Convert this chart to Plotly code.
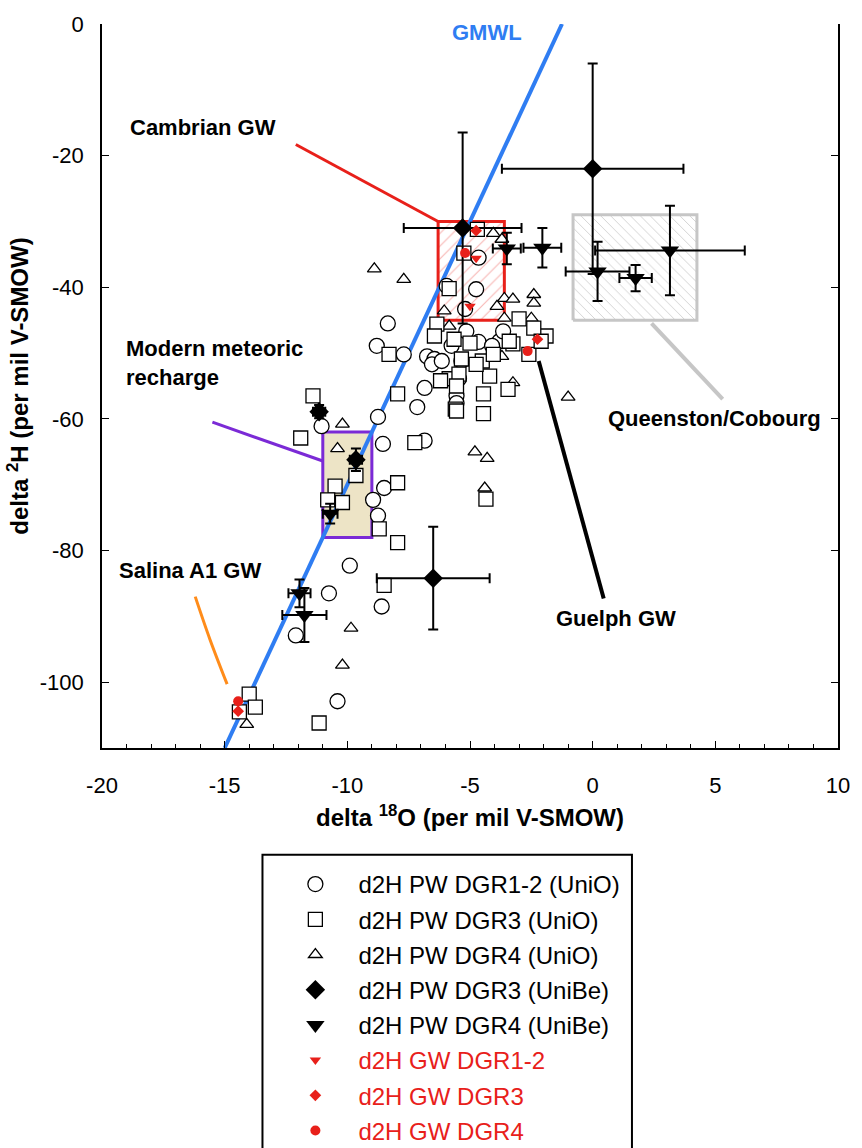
import plotly.graph_objects as go

# ---- porewater, UniO (open symbols) ----
pw_dgr12_uo_x = [-8.35, -8.8, -7.7, -6.75, -6.45, -6.85, -7.15, -8.75, -8.55, -6.85, -11.05, -6.55,
                 -8.5, -8.95, -8.75, -9.9, -10.75, -8.6, -12.1, -10.4, -4.75, -5.2, -5.55, -5.55,
                 -3.8, -3.65, -4.65, -4.65, -5.95, -5.35, -4.1, -5.45, -5.75, -5.15, -6.15]
pw_dgr12_uo_y = [-45.5, -48.9, -50.2, -50.5, -50.9, -55.3, -58.2, -59.7, -63.8, -63.3, -61.1, -51.7,
                 -70.5, -72.3, -74.7, -82.3, -86.5, -88.5, -92.9, -102.9, -40.3, -43.3, -56.5, -57.6,
                 -48.2, -46.7, -48.3, -35.5, -39.8, -51.2, -48.9, -53.9, -48.9, -46.7, -51.2]

pw_dgr3_uo_x = [-11.4, -8.3, -7.95, -6.35, -6.45, -5.85, -5.6, -7.25, -11.9, -6.2, -9.65, -10.5,
                -10.8, -10.2, -7.95, -8.7, -7.95, -8.5, -14.0, -13.75, -14.4, -11.15, -5.85, -5.65,
                -5.0, -5.35, -4.5, -5.45, -4.2, -5.55, -4.45, -3.45, -5.55, -4.45, -3.0, -3.25,
                -1.9, -2.6, -2.4, -2.1, -3.4, -4.05, -4.75, -4.7, -5.25, -4.35]
pw_dgr3_uo_y = [-56.5, -50.2, -56.2, -45.6, -47.4, -53.9, -58.5, -63.6, -62.9, -54.2, -68.6, -70.2,
                -72.3, -72.7, -69.7, -76.7, -78.8, -85.3, -101.8, -103.8, -104.5, -106.2, -40.2, -47.9,
                -48.5, -50.9, -51.2, -53.2, -53.5, -55.0, -56.2, -55.5, -58.8, -59.2, -44.8, -48.6,
                -47.4, -50.2, -46.2, -48.2, -48.2, -50.2, -51.7, -31.2, -34.8, -72.2]

pw_dgr4_uo_x = [-4.05, -3.7, -2.4, -7.7, -8.9, -3.6, -3.25, -2.4, -3.9, -6.05, -5.85, -3.6, -2.5,
                -3.7, -3.25, -1.0, -10.2, -10.4, -9.85, -10.2, -14.1, -4.8, -4.3, -4.4]
pw_dgr4_uo_y = [-31.8, -32.7, -41.1, -38.8, -37.2, -41.7, -41.8, -42.4, -42.9, -43.6, -45.9, -44.7, -44.7,
                -50.5, -54.5, -56.7, -60.8, -64.5, -91.8, -97.4, -106.4, -65.0, -66.0, -70.5]

# ---- porewater, UniBe (filled symbols with error bars) ----
pw_dgr3_ub_x = [-5.3, 0.0, -9.65, -11.15, -6.5]
pw_dgr3_ub_y = [-31.0, -22.0, -66.2, -58.9, -84.2]
pw_dgr3_ub_xerr = [2.4, 3.7, 0.25, 0.25, 2.3]
pw_dgr3_ub_yerr = [14.5, 16.0, 1.7, 1.0, 7.8]

pw_dgr4_ub_x = [-3.5, -2.05, 0.2, 1.75, 3.15, -10.7, -11.95, -11.75]
pw_dgr4_ub_y = [-34.1, -34.0, -37.6, -38.6, -34.4, -74.4, -86.5, -89.8]
pw_dgr4_ub_xerr = [0.57, 0.77, 1.3, 0.66, 3.05, 0.3, 0.45, 0.9]
pw_dgr4_ub_yerr = [2.4, 3.0, 4.5, 2.0, 6.8, 1.5, 2.1, 4.1]

# ---- groundwater ----
gw_dgr12_x = [-4.75, -5.0]
gw_dgr12_y = [-35.6, -42.9]
gw_dgr3_x = [-4.75, -2.25, -14.45]
gw_dgr3_y = [-31.4, -47.9, -104.4]
gw_dgr4_x = [-5.2, -2.65, -14.45]
gw_dgr4_y = [-34.8, -49.7, -102.9]

# ---- Global Meteoric Water Line (d2H = 8 d18O + 10) ----
gmwl_x = [-15.0, -1.25]
gmwl_y = [-110.0, 0.0]

# ---- axis ticks ----
x_ticks = [-20, -15, -10, -5, 0, 5, 10]
x_ticklabels = ["-20", "-15", "-10", "-5", "0", "5", "10"]
y_ticks = [0, -20, -40, -60, -80, -100]
y_ticklabels = ["0", "-20", "-40", "-60", "-80", "-100"]

# ---- reference fields ----
cambrian_box = dict(x0=-6.3, x1=-3.6, y0=-45.0, y1=-30.0)
queenston_box = dict(x0=-0.8, x1=4.25, y0=-45.0, y1=-29.0)
meteoric_box = dict(x0=-11.0, x1=-9.0, y0=-78.0, y1=-62.0)

# ---- leader lines from labels to fields ----
cambrian_lead_x, cambrian_lead_y = [-12.1, -6.3], [-18.3, -30.0]
meteoric_lead_x, meteoric_lead_y = [-15.5, -11.0], [-60.5, -66.4]
salina_lead_x, salina_lead_y = [-16.2, -15.6, -14.9], [-87.0, -93.5, -100.3]
queenston_lead_x, queenston_lead_y = [2.4, 5.3], [-45.5, -57.0]
guelph_lead_x, guelph_lead_y = [-2.2, 0.45], [-51.2, -87.3]

FONT = "Liberation Sans, Arial, sans-serif"
RED = "#E8201A"
FIG_W, FIG_H = 862, 1148
M_L, M_R, M_T, M_B = 102, 17, 22, 400
PLOT_W, PLOT_H = FIG_W - M_L - M_R, FIG_H - M_T - M_B

fig = go.Figure()


def box_trace(b, **kw):
    xs = [b["x0"], b["x1"], b["x1"], b["x0"], b["x0"]]
    ys = [b["y0"], b["y0"], b["y1"], b["y1"], b["y0"]]
    return go.Scatter(x=xs, y=ys, mode="lines", fill="toself", showlegend=False,
                      hoverinfo="skip", **kw)


fig.add_trace(box_trace(meteoric_box, fillcolor="#EDE4C6",
                        line=dict(color="#7B2AD6", width=3)))
fig.add_trace(box_trace(cambrian_box,
                        fillpattern=dict(shape="/", fgcolor="#F06A64", bgcolor="white",
                                         size=9, solidity=0.12),
                        line=dict(color=RED, width=3)))
fig.add_trace(box_trace(queenston_box,
                        fillpattern=dict(shape="\\", fgcolor="#A8A8A8", bgcolor="white",
                                         size=7, solidity=0.14),
                        line=dict(color="#C6C6C6", width=3)))

# leader lines
for lx, ly, col, w in [(cambrian_lead_x, cambrian_lead_y, RED, 3),
                       (meteoric_lead_x, meteoric_lead_y, "#7B2AD6", 3),
                       (salina_lead_x, salina_lead_y, "#FF8C1A", 3),
                       (queenston_lead_x, queenston_lead_y, "#C6C6C6", 4),
                       (guelph_lead_x, guelph_lead_y, "black", 4)]:
    fig.add_trace(go.Scatter(x=lx, y=ly, mode="lines", line=dict(color=col, width=w, shape="spline"),
                             showlegend=False, hoverinfo="skip"))

# GMWL
fig.add_trace(go.Scatter(x=gmwl_x, y=gmwl_y, mode="lines", line=dict(color="#2F7DF2", width=4),
                         showlegend=False, hoverinfo="skip"))

open_line = dict(color="black", width=1.3)
fig.add_trace(go.Scatter(x=pw_dgr12_uo_x, y=pw_dgr12_uo_y, mode="markers",
                         name="d2H PW DGR1-2 (UniO)", legendgroup="a", legendrank=1,
                         marker=dict(symbol="circle", size=15, color="white", line=open_line)))
fig.add_trace(go.Scatter(x=pw_dgr4_uo_x, y=pw_dgr4_uo_y, mode="markers",
                         name="d2H PW DGR4 (UniO)", legendgroup="c", legendrank=3,
                         marker=dict(symbol="triangle-up", size=12, color="white", line=open_line)))
fig.add_trace(go.Scatter(x=pw_dgr3_uo_x, y=pw_dgr3_uo_y, mode="markers",
                         name="d2H PW DGR3 (UniO)", legendgroup="b", legendrank=2,
                         marker=dict(symbol="square", size=14, color="white", line=open_line)))

err = dict(type="data", color="black", thickness=2, width=5)
fig.add_trace(go.Scatter(x=pw_dgr3_ub_x, y=pw_dgr3_ub_y, mode="markers",
                         name="d2H PW DGR3 (UniBe)", legendgroup="d", legendrank=4,
                         error_x=dict(array=pw_dgr3_ub_xerr, **err),
                         error_y=dict(array=pw_dgr3_ub_yerr, **err),
                         marker=dict(symbol="diamond", size=15, color="black")))
fig.add_trace(go.Scatter(x=pw_dgr4_ub_x, y=pw_dgr4_ub_y, mode="markers",
                         name="d2H PW DGR4 (UniBe)", legendgroup="e", legendrank=5,
                         error_x=dict(array=pw_dgr4_ub_xerr, **err),
                         error_y=dict(array=pw_dgr4_ub_yerr, **err),
                         marker=dict(symbol="triangle-down", size=16, color="black")))

fig.add_trace(go.Scatter(x=gw_dgr12_x, y=gw_dgr12_y, mode="markers",
                         name=f"<span style='color:{RED}'>d2H GW DGR1-2</span>",
                         legendgroup="f", legendrank=6,
                         marker=dict(symbol="triangle-down", size=10, color=RED)))
fig.add_trace(go.Scatter(x=gw_dgr3_x, y=gw_dgr3_y, mode="markers",
                         name=f"<span style='color:{RED}'>d2H GW DGR3</span>",
                         legendgroup="g", legendrank=7,
                         marker=dict(symbol="diamond", size=9, color=RED)))
fig.add_trace(go.Scatter(x=gw_dgr4_x, y=gw_dgr4_y, mode="markers",
                         name=f"<span style='color:{RED}'>d2H GW DGR4</span>",
                         legendgroup="h", legendrank=8,
                         marker=dict(symbol="circle", size=10, color=RED)))

labels = [
    ("<b>GMWL</b>", -4.3, -1.3, "center", "#2F7DF2"),
    ("<b>Cambrian GW</b>", -15.9, -15.7, "center", "black"),
    ("<b>Modern meteoric<br>recharge</b>", -19.1, -51.5, "left", "black"),
    ("<b>Salina A1 GW</b>", -16.4, -83.0, "center", "black"),
    ("<b>Queenston/Cobourg</b>", 4.95, -60.0, "center", "black"),
    ("<b>Guelph GW</b>", 0.95, -90.3, "center", "black"),
]
for txt, x, y, anchor, col in labels:
    fig.add_annotation(text=txt, x=x, y=y, xref="x", yref="y", showarrow=False,
                       xanchor=anchor, yanchor="middle", align="left",
                       font=dict(family=FONT, size=22, color=col))

# legend frame
fig.add_shape(type="rect", xref="paper", yref="paper",
              x0=(264 - M_L) / PLOT_W, x1=(637 - M_L) / PLOT_W,
              y0=(FIG_H - M_B - 1160) / PLOT_H, y1=(FIG_H - M_B - 855) / PLOT_H,
              line=dict(color="black", width=2), fillcolor="rgba(0,0,0,0)")

fig.update_layout(
    width=FIG_W, height=FIG_H,
    margin=dict(l=M_L, r=M_R, t=M_T, b=M_B),
    paper_bgcolor="white", plot_bgcolor="white",
    font=dict(family=FONT, size=20, color="black"),
    showlegend=True,
    legend=dict(xref="paper", x=(274 - M_L) / PLOT_W, xanchor="left",
                yref="container", y=(FIG_H - 862) / FIG_H, yanchor="top",
                bgcolor="rgba(0,0,0,0)", borderwidth=0, itemwidth=76,
                tracegroupgap=1, font=dict(family=FONT, size=24, color="black")),
    xaxis=dict(range=[-20, 10], tickvals=x_ticks, ticktext=x_ticklabels,
               ticks="inside", ticklen=7, tickwidth=1.3, tickcolor="black",
               minor=dict(dtick=1, ticks="inside", ticklen=4, tickwidth=1.3, tickcolor="black"),
               showline=True, linecolor="black", linewidth=1.5, mirror=False,
               showgrid=False, zeroline=False, ticklabelstandoff=17,
               tickfont=dict(family=FONT, size=22),
               title=dict(text="<b>delta <sup>18</sup>O (per mil V-SMOW)</b>",
                          font=dict(family=FONT, size=24), standoff=12)),
    yaxis=dict(range=[-110, 0], tickvals=y_ticks, ticktext=y_ticklabels,
               ticks="inside", ticklen=7, tickwidth=1.3, tickcolor="black",
               showline=True, linecolor="black", linewidth=1.5, mirror="ticks",
               showgrid=False, zeroline=False, ticklabelstandoff=12,
               tickfont=dict(family=FONT, size=22),
               title=dict(text="<b>delta <sup>2</sup>H (per mil V-SMOW)</b>",
                          font=dict(family=FONT, size=24), standoff=4)),
)

fig.write_html("out.html")
